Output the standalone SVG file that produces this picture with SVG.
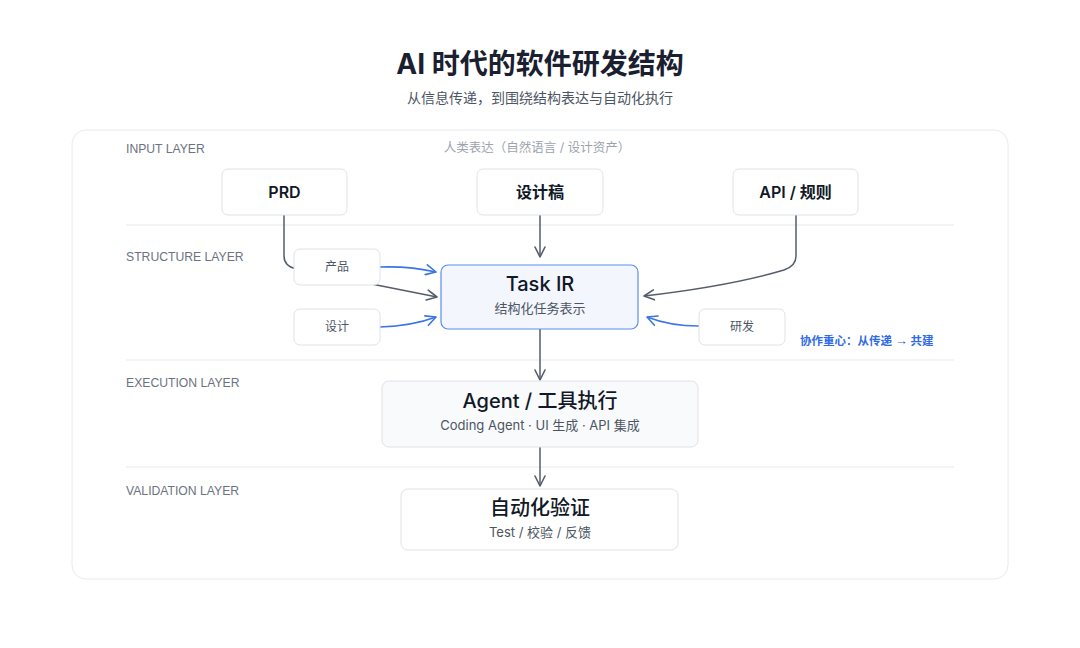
<svg xmlns="http://www.w3.org/2000/svg" width="1080" height="648" viewBox="0 0 1080 648">
<defs>
<style>
text{font-family:"Inter","Noto Sans CJK SC",sans-serif;}
.title{font-size:28px;font-weight:700;fill:#1a2030;text-anchor:middle;}
.sub{font-size:14px;fill:#4b5563;text-anchor:middle;}
.layer{font-family:"Liberation Sans","Noto Sans CJK SC",sans-serif;font-size:12.2px;fill:#6b7280;}
.sep{stroke:#eef0f3;stroke-width:1.5;}
.box{fill:#ffffff;stroke:#dfe2e7;stroke-width:1;}
.in{font-size:16px;font-weight:600;fill:#111827;text-anchor:middle;}
.small{font-size:12px;fill:#4b5563;text-anchor:middle;}
.big{font-size:20px;font-weight:500;fill:#111827;text-anchor:middle;}
.desc{font-size:13px;fill:#4b5563;text-anchor:middle;}
.gray{fill:none;stroke:#555d6b;stroke-width:1.5;marker-end:url(#ag);}
.blue{fill:none;stroke:#3b74e8;stroke-width:1.6;marker-end:url(#ab);}
</style>
<marker id="ag" viewBox="0 0 12 12" markerWidth="12" markerHeight="12" refX="11" refY="6" orient="auto" markerUnits="userSpaceOnUse">
<path d="M1,1 L11,6 L1,11" fill="none" stroke="#555d6b" stroke-width="1.6" stroke-linecap="round" stroke-linejoin="round"/>
</marker>
<marker id="ab" viewBox="0 0 12 12" markerWidth="12" markerHeight="12" refX="11" refY="6" orient="auto" markerUnits="userSpaceOnUse">
<path d="M1,1 L11,6 L1,11" fill="none" stroke="#3b74e8" stroke-width="1.6" stroke-linecap="round" stroke-linejoin="round"/>
</marker>
</defs>
<rect width="1080" height="648" fill="#ffffff"/>
<g id="header">
<text class="title" x="540" y="74">AI 时代的软件研发结构</text>
<text class="sub" x="540" y="103">从信息传递，到围绕结构表达与自动化执行</text>
</g>
<g id="frame">
<rect x="72" y="130" width="936" height="449" rx="14" fill="#ffffff" stroke="#e8eaee" stroke-width="1"/>
<line class="sep" x1="126" y1="225" x2="954" y2="225"/>
<line class="sep" x1="126" y1="360" x2="954" y2="360"/>
<line class="sep" x1="126" y1="467" x2="954" y2="467"/>
<text class="layer" x="126" y="153">INPUT LAYER</text>
<text class="layer" x="126" y="261">STRUCTURE LAYER</text>
<text class="layer" x="126" y="387">EXECUTION LAYER</text>
<text class="layer" x="126" y="495">VALIDATION LAYER</text>
<text x="537" y="152" font-size="12.5" fill="#9ca3af" text-anchor="middle">人类表达（自然语言 / 设计资产）</text>
<text x="800" y="345" font-size="11.5" font-weight="700" fill="#2f6be6">协作重心：从传递 <tspan font-family="Liberation Sans, sans-serif" font-size="13">→</tspan> 共建</text>
</g>
<g id="connectors">
<path class="gray" d="M284,215 V256 Q284,266 296,269 L437,297"/>
<path class="gray" d="M540,215 V257"/>
<path class="gray" d="M796,215 V256 Q796,266 784,270 Q730,286 644,296"/>
<path class="blue" d="M380,267 Q410,266 436,272"/>
<path class="blue" d="M380,327 Q412,326 436,317"/>
<path class="blue" d="M699,326 Q670,326 647,317"/>
<path class="gray" d="M540,329 V380"/>
<path class="gray" d="M540,447 V486"/>
</g>
<g id="prd">
<rect class="box" x="222" y="169" width="125" height="46" rx="6"/>
<text class="in" x="284.5" y="198">PRD</text>
</g>
<g id="design-doc">
<rect class="box" x="477" y="169" width="126" height="46" rx="6"/>
<text class="in" x="540" y="198">设计稿</text>
</g>
<g id="api-rules">
<rect class="box" x="733" y="169" width="125" height="46" rx="6"/>
<text class="in" x="795.5" y="198">API / 规则</text>
</g>
<g id="product">
<rect class="box" x="294" y="249" width="86" height="36" rx="6"/>
<text class="small" x="337" y="271">产品</text>
</g>
<g id="design">
<rect class="box" x="294" y="309" width="86" height="36" rx="6"/>
<text class="small" x="337" y="331">设计</text>
</g>
<g id="dev">
<rect class="box" x="699" y="309" width="86" height="36" rx="6"/>
<text class="small" x="742" y="331">研发</text>
</g>
<g id="task-ir">
<rect x="441" y="265" width="197" height="64" rx="7" fill="#f3f6fd" stroke="#5b8def" stroke-width="1.2"/>
<text class="big" x="540" y="291">Task IR</text>
<text class="desc" x="540" y="313">结构化任务表示</text>
</g>
<g id="agent">
<rect x="382" y="381" width="316" height="66" rx="7" fill="#f9fafb" stroke="#dfe2e7" stroke-width="1"/>
<text class="big" x="540" y="408">Agent / 工具执行</text>
<text class="desc" x="540" y="430" font-size="12.5">Coding Agent · UI 生成 · API 集成</text>
</g>
<g id="validation">
<rect class="box" x="401" y="489" width="277" height="61" rx="7"/>
<text class="big" x="540" y="515" font-weight="700">自动化验证</text>
<text class="desc" x="540" y="537">Test / 校验 / 反馈</text>
</g>
</svg>
